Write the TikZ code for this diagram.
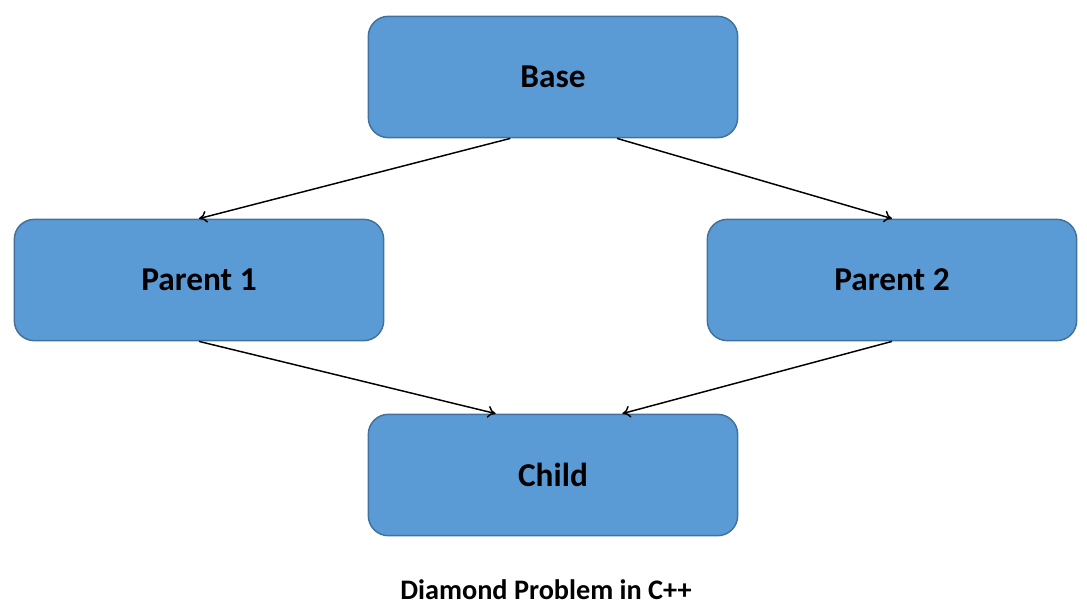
\documentclass[tikz,border=0pt]{standalone}
\usepackage{fontspec}
\setmainfont{Carlito}
\usepackage{tikz}
\usetikzlibrary{arrows.meta}

\definecolor{boxfill}{HTML}{5B9BD5}
\definecolor{boxline}{HTML}{41719C}

\tikzset{
  classbox/.style={draw=boxline, fill=boxfill, line width=1.1pt, rounded corners=15pt,
    minimum width=277pt, minimum height=91pt, inner sep=0pt,
    font=\fontsize{25}{30}\selectfont\bfseries},
  inherit/.style={-{To[length=6pt,width=9pt]}, line width=1.1pt}
}

\begin{document}
\begin{tikzpicture}[x=0.75pt,y=-0.75pt]
\useasboundingbox (0,0) rectangle (1087,607);
\node[classbox] (base) at (553,77) {Base};
\node[classbox] (parent1) at (199,280) {Parent 1};
\node[classbox] (parent2) at (892,280) {Parent 2};
\node[classbox] (child) at (553,475) {Child};
\node[font=\fontsize{21.2}{25}\selectfont\bfseries] (caption) at (546,590) {Diamond Problem in C++};
% inheritance arrows
\draw[inherit] ([xshift=-32pt]base.south) -- (parent1.north);
\draw[inherit] ([xshift=48pt]base.south) -- (parent2.north);
\draw[inherit] (parent1.south) -- ([xshift=-43pt]child.north);
\draw[inherit] (parent2.south) -- ([xshift=52pt]child.north);
\end{tikzpicture}
\end{document}
